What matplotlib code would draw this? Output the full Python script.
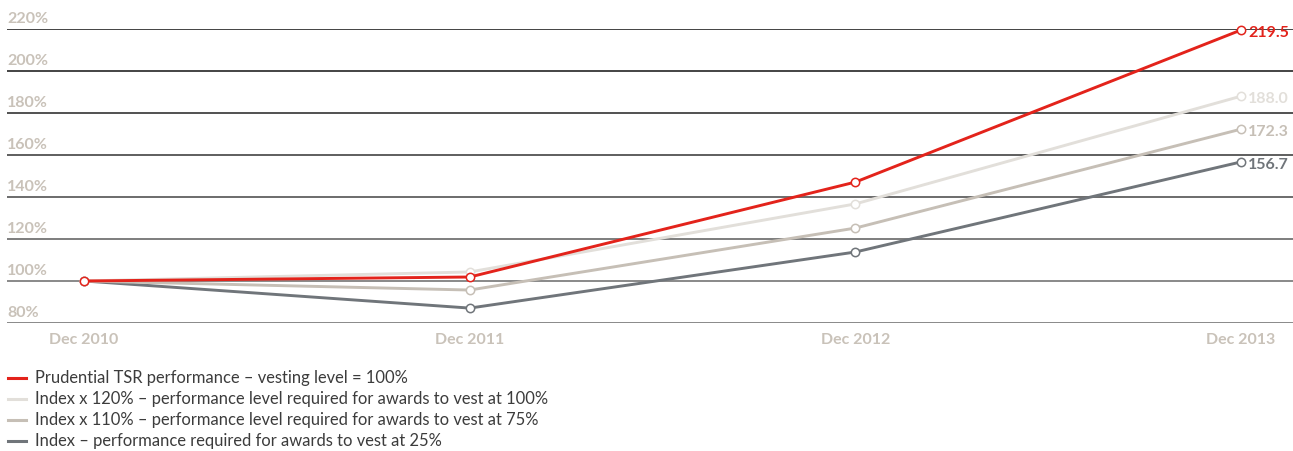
import matplotlib
matplotlib.use("Agg")
import matplotlib.pyplot as plt
import matplotlib.transforms as mtransforms

plt.rcParams['font.family'] = ['Lato', 'DejaVu Sans']

## data
periods = ["Dec 2010", "Dec 2011", "Dec 2012", "Dec 2013"]
tsr = [100.0, 101.9, 147.1, 219.5]
index_120 = [100.0, 104.3, 136.7, 188.0]
index_110 = [100.0, 95.7, 125.2, 172.3]
index_100 = [100.0, 87.1, 113.8, 156.7]
yticks = [80, 100, 120, 140, 160, 180, 200, 220]
labels = ["Prudential TSR performance \u2013 vesting level = 100%",
          "Index x 120% \u2013 performance level required for awards to vest at 100%",
          "Index x 110% \u2013 performance level required for awards to vest at 75%",
          "Index \u2013 performance required for awards to vest at 25%"]
end_labels = ["219.5", "188.0", "172.3", "156.7"]

## styles
colors = ["#e3231b", "#e2dfda", "#c6bfb6", "#70757a"]
tick_color = "#c9c2b9"
grid_colors = ["#6a6a6a", "#6a6a6a", "#5a5a5a", "#444444",
               "#333333", "#222222", "#111111", "#111111"]

fig = plt.figure(figsize=(12.93, 4.51), dpi=100)
ax = fig.add_axes([7 / 1293, 1 - 323 / 451, 1 - 7 / 1293, (323 - 29) / 451])

x = list(range(len(periods)))
series = [index_100, index_110, index_120, tsr]
order_colors = [colors[3], colors[2], colors[1], colors[0]]

for yv, gc in zip(yticks, grid_colors):
    ax.axhline(yv, color=gc, lw=1.1, zorder=1)

for s, c in zip(series, order_colors):
    ax.plot(x, s, color=c, lw=2.1, marker="o", ms=6, mfc="white",
            mec=c, mew=1.1, zorder=3, clip_on=False)

## end value labels
for s, c, t in zip([tsr, index_120, index_110, index_100], colors, end_labels):
    ax.annotate(t, (x[-1], s[-1]), xytext=(5, -2), textcoords="offset points",
                ha="left", va="center", color=c, fontsize=11.5, fontweight="bold")

ax.set_xlim(-0.2, 3.135)
ax.set_ylim(80, 220)
for sp in ax.spines.values():
    sp.set_visible(False)
ax.set_xticks([])
ax.set_yticks([])

## y labels sit above the gridlines
trans = mtransforms.blended_transform_factory(ax.transAxes, ax.transData)
for yv in yticks:
    ax.annotate(f"{yv}%", (0, yv), xycoords=trans, xytext=(0, 2),
                textcoords="offset points", ha="left", va="bottom",
                color=tick_color, fontsize=11.5, fontweight="bold")

## x labels under the bottom line
for xi, p in zip(x, periods):
    ax.annotate(p, (xi, 80), xytext=(0, -7), textcoords="offset points",
                ha="center", va="top", color=tick_color, fontsize=11.5,
                fontweight="bold")

## legend drawn by hand
leg_y = [378, 399, 420, 441]
for c, lab, ly in zip(colors, labels, leg_y):
    yy = 1 - ly / 451
    fig.add_artist(plt.Line2D([8 / 1293, 26 / 1293], [yy, yy], color=c, lw=2.2))
    fig.text(35 / 1293, yy, lab, ha="left", va="center", fontsize=11.9,
             color="#3c3c3c", fontweight="normal")

fig.savefig("out.png", dpi=100)
